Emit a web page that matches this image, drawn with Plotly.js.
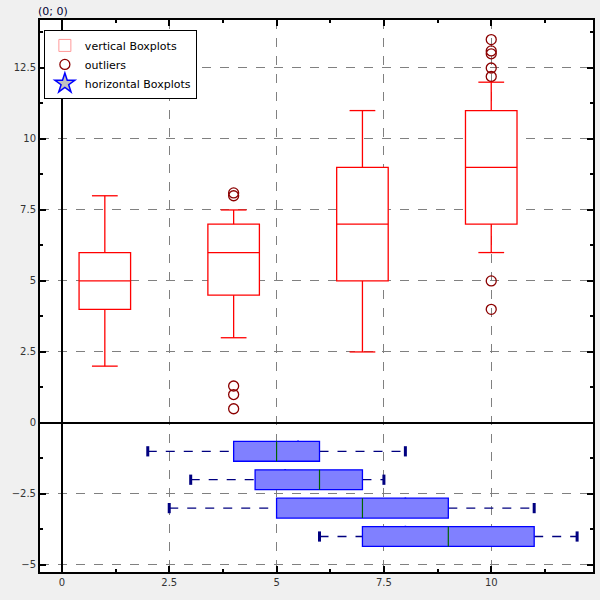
<!DOCTYPE html>
<html><head><meta charset="utf-8">
<script src="https://cdn.plot.ly/plotly-3.0.1.min.js"></script>
<style>body{margin:0;background:#f0f0f0}</style>
</head><body>
<div id="chart" style="width:600px;height:600px"></div>
<script>
// vertical boxplots (positions on x)
const vPos = [1, 4, 7, 10];
const vMin = [2, 3, 2.5, 6];
const vQ1 = [4, 4.5, 5, 7];
const vMed = [5, 6, 7, 9];
const vQ3 = [6, 7, 9, 11];
const vMax = [8, 7.5, 11, 12];
const vMean = [5.5, 5.2, 8, 8];
const outX = [4, 4, 4, 4, 4, 10, 10, 10, 10, 10, 10, 10];
const outY = [8, 8.1, 1.3, 1, 0.5, 12.2, 12.5, 13, 13.1, 13.5, 5, 4];

// horizontal boxplots (positions on y)
const hPos = [-1, -2, -3, -4];
const hMin = [2, 3, 2.5, 6];
const hQ1 = [4, 4.5, 5, 7];
const hMed = [5, 6, 7, 9];
const hQ3 = [6, 7, 9, 11];
const hMax = [8, 7.5, 11, 12];
const hMean = [5.5, 5.2, 8, 8];

const shapes = [];
const vw = 0.6, cw = 0.3;
vPos.forEach((p, i) => {
  const red = {color: 'red', width: 1.3};
  shapes.push({type: 'rect', x0: p - vw, x1: p + vw, y0: vQ1[i], y1: vQ3[i], line: red, fillcolor: 'white'});
  shapes.push({type: 'line', x0: p - vw, x1: p + vw, y0: vMed[i], y1: vMed[i], line: red});
  shapes.push({type: 'line', x0: p, x1: p, y0: vMin[i], y1: vQ1[i], line: red});
  shapes.push({type: 'line', x0: p, x1: p, y0: vQ3[i], y1: vMax[i], line: red});
  shapes.push({type: 'line', x0: p - cw, x1: p + cw, y0: vMin[i], y1: vMin[i], line: red});
  shapes.push({type: 'line', x0: p - cw, x1: p + cw, y0: vMax[i], y1: vMax[i], line: red});
});
const hh = 0.35, ch = 0.18;
hPos.forEach((p, i) => {
  const dash = {color: 'navy', width: 1.3, dash: 'dash'};
  const cap = {color: 'navy', width: 3};
  shapes.push({type: 'line', x0: hMin[i], x1: hQ1[i], y0: p, y1: p, line: dash});
  shapes.push({type: 'line', x0: hQ3[i], x1: hMax[i], y0: p, y1: p, line: dash});
  shapes.push({type: 'line', x0: hMin[i], x1: hMin[i], y0: p - ch, y1: p + ch, line: cap});
  shapes.push({type: 'line', x0: hMax[i], x1: hMax[i], y0: p - ch, y1: p + ch, line: cap});
  shapes.push({type: 'rect', x0: hQ1[i], x1: hQ3[i], y0: p - hh, y1: p + hh, line: {color: 'blue', width: 1.3}, fillcolor: 'rgba(128,128,255,1)'});
  shapes.push({type: 'line', x0: hMed[i], x1: hMed[i], y0: p - hh, y1: p + hh, line: {color: 'darkgreen', width: 1.2}});
});

const traces = [
  {x: vPos, y: vMean, type: 'scatter', mode: 'markers', name: 'vertical Boxplots',
   marker: {symbol: 'square-open', size: 12, color: '#f99'}, showlegend: true,
   hoverinfo: 'none'},
  {x: vPos, y: vMean, type: 'scatter', mode: 'markers', showlegend: false,
   marker: {symbol: 'cross-thin-open', size: 14, line: {color: 'red', width: 1.5}}},
  {x: outX, y: outY, type: 'scatter', mode: 'markers', name: 'outliers',
   marker: {symbol: 'circle-open', size: 10, line: {color: 'darkred', width: 1.3}, color: 'darkred'}},
  {x: hMean, y: hPos, type: 'scatter', mode: 'markers', name: 'horizontal Boxplots',
   marker: {symbol: 'star', size: 15, color: '#c0c0c0', line: {color: 'blue', width: 1.5}}},
];

const ax = {
  showline: true, mirror: 'ticks', linecolor: 'black', linewidth: 2,
  ticks: 'inside', ticklen: 6, tickcolor: 'black', tickwidth: 2,
  gridcolor: 'gray', griddash: 'dash', gridwidth: 1,
  zeroline: true, zerolinecolor: 'black', zerolinewidth: 2,
  tickfont: {size: 10, color: '#333'}, dtick: 2.5,
  minor: {ticks: 'inside', ticklen: 3, tickcolor: 'black', dtick: 1.25, showgrid: false}
};
const layout = {
  width: 600, height: 600,
  margin: {l: 40, r: 7, t: 20, b: 28},
  paper_bgcolor: '#f0f0f0', plot_bgcolor: 'white',
  font: {family: 'DejaVu Sans', size: 11, color: 'black'},
  xaxis: Object.assign({}, ax, {range: [-0.51, 12.37]}),
  yaxis: Object.assign({}, ax, {range: [-5.25, 14.19]}),
  shapes,
  showlegend: true,
  legend: {x: 0.007, y: 0.982, xanchor: 'left', yanchor: 'top', bgcolor: 'white',
           bordercolor: 'black', borderwidth: 1, font: {size: 11}, tracegroupgap: 0, itemwidth: 30},
  annotations: [{text: '(0; 0)', xref: 'paper', yref: 'paper', x: 0.0, y: 1, yanchor: 'bottom',
                 xanchor: 'left', showarrow: false, font: {size: 11, color: '#003'}, xshift: -4}]
};
Plotly.newPlot('chart', traces, layout, {displayModeBar: false, staticPlot: true});
</script>
</body></html>
